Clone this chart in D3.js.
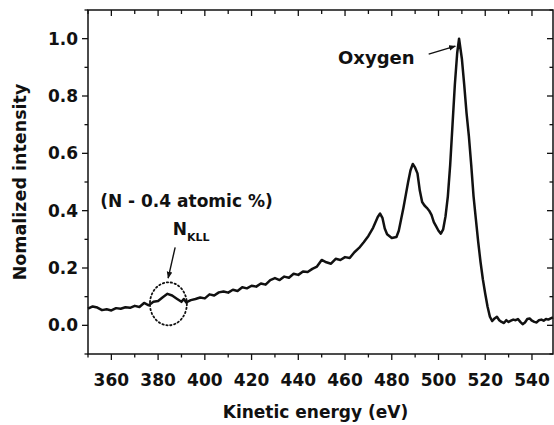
<!DOCTYPE html>
<html>
<head>
<meta charset="utf-8">
<script src="https://cdn.jsdelivr.net/npm/d3@7"></script>
<style>
  body { margin: 0; background: #fff; }
  svg text { font-family: "DejaVu Sans", sans-serif; font-weight: bold; fill: #111; }
</style>
</head>
<body>
<div id="chart"></div>
<script>
// Auger spectrum
const energy = [350, 352, 354, 356, 358, 360, 362, 364, 366, 368, 370, 372, 374, 376, 378,
    380, 382, 384, 386, 388, 390, 391, 392, 394, 396, 398, 400, 402, 404, 406, 408, 410,
    412, 414, 416, 418, 420, 422, 424, 426, 428, 430, 432, 434, 436, 438, 440, 442, 444,
    446, 448, 450, 452, 454, 456, 458, 460, 462, 464, 466, 468, 470, 472, 474, 475, 476,
    477, 478, 480, 482, 483, 484, 485, 486, 487, 488, 489, 490, 491, 492, 493, 494, 495,
    496, 497, 498, 499, 500, 501, 502, 503, 504, 505, 506, 507, 508, 508.8, 510, 511, 512,
    513, 514, 515, 516, 517, 518, 519, 520, 521, 522, 523, 524, 525, 526, 527, 528, 529,
    530, 531, 532, 533, 534, 535, 536, 537, 538, 539, 540, 541, 542, 543, 544, 545, 546,
    547, 548, 549];
const intensity = [.058, .066, .062, .053, .056, .052, .060, .058, .063, .061, .068, .064, .078, .070, .082,
    .085, .098, .110, .104, .093, .082, .092, .080, .088, .092, .097, .094, .108, .104, .115, .118, .114,
    .124, .120, .133, .129, .138, .135, .146, .142, .158, .165, .158, .170, .166, .180, .176, .188, .186,
    .197, .205, .228, .220, .215, .232, .228, .238, .235, .255, .270, .290, .312, .340, .378, .390, .375,
    .338, .318, .305, .308, .330, .370, .410, .455, .500, .540, .563, .550, .530, .470, .430, .418, .410,
    .400, .385, .360, .345, .330, .320, .335, .380, .450, .560, .700, .840, .950, 1.0, .930, .840, .740,
    .660, .560, .450, .370, .290, .220, .160, .110, .065, .030, .015, .024, .030, .018, .012, .008, .018,
    .012, .016, .020, .018, .022, .012, .004, .010, .022, .024, .016, .012, .010, .018, .020, .016, .022,
    .020, .024, .028];

const xMajor = [360, 380, 400, 420, 440, 460, 480, 500, 520, 540];
const xMinor = [350, 370, 390, 410, 430, 450, 470, 490, 510, 530];
const yMajor = [0.0, 0.2, 0.4, 0.6, 0.8, 1.0];
const yMinor = [-0.1, 0.1, 0.3, 0.5, 0.7, 0.9, 1.1];

const width = 554, height = 425;
const margin = { top: 10, right: 1, bottom: 71, left: 88 };

const svg = d3.select('#chart')
    .append('svg')
    .attr('width', width)
    .attr('height', height);

const x = d3.scaleLinear().domain([350, 549]).range([margin.left, width - margin.right]);
const y = d3.scaleLinear().domain([-0.1, 1.1]).range([height - margin.bottom, margin.top]);

const x0 = x.range()[0], x1 = x.range()[1];
const y0 = y.range()[0], y1 = y.range()[1];

// ticks: bottom/left outward, top/right inward
const ticks = svg.append('g').attr('stroke', '#111').attr('stroke-width', 1.3);
xMajor.forEach(v => {
    ticks.append('line').attr('x1', x(v)).attr('x2', x(v)).attr('y1', y0).attr('y2', y0 + 6);
    ticks.append('line').attr('x1', x(v)).attr('x2', x(v)).attr('y1', y1).attr('y2', y1 + 6);
});
xMinor.forEach(v => {
    ticks.append('line').attr('x1', x(v)).attr('x2', x(v)).attr('y1', y0).attr('y2', y0 + 3.5);
    ticks.append('line').attr('x1', x(v)).attr('x2', x(v)).attr('y1', y1).attr('y2', y1 + 4);
});
yMajor.forEach(v => {
    ticks.append('line').attr('x1', x0 - 6).attr('x2', x0).attr('y1', y(v)).attr('y2', y(v));
    ticks.append('line').attr('x1', x1 - 6).attr('x2', x1).attr('y1', y(v)).attr('y2', y(v));
});
yMinor.forEach(v => {
    ticks.append('line').attr('x1', x0 - 3.5).attr('x2', x0).attr('y1', y(v)).attr('y2', y(v));
    ticks.append('line').attr('x1', x1 - 3.5).attr('x2', x1).attr('y1', y(v)).attr('y2', y(v));
});

// frame
svg.append('rect')
    .attr('x', x0).attr('y', y1)
    .attr('width', x1 - x0).attr('height', y0 - y1)
    .attr('fill', 'none')
    .attr('stroke', '#111')
    .attr('stroke-width', 1.5);

// tick labels
svg.append('g').selectAll('text')
    .data(xMajor)
    .enter().append('text')
    .attr('x', d => x(d))
    .attr('y', y0 + 32)
    .attr('text-anchor', 'middle')
    .style('font-size', '17px')
    .text(d => d);

svg.append('g').selectAll('text')
    .data(yMajor)
    .enter().append('text')
    .attr('x', x0 - 10)
    .attr('y', d => y(d) + 6)
    .attr('text-anchor', 'end')
    .style('font-size', '17px')
    .text(d => d3.format('.1f')(d));

// axis titles
svg.append('text')
    .attr('x', (x0 + x1) / 2 - 5)
    .attr('y', 418)
    .attr('text-anchor', 'middle')
    .style('font-size', '17px')
    .text('Kinetic energy (eV)');

svg.append('text')
    .attr('transform', `translate(26,${(y0 + y1) / 2}) rotate(-90)`)
    .attr('text-anchor', 'middle')
    .style('font-size', '17.5px')
    .text('Nomalized intensity');

// spectrum
const points = energy.map((e, i) => [e, intensity[i]]);
const line = d3.line()
    .x(d => x(d[0]))
    .y(d => y(d[1]));

svg.append('path')
    .datum(points)
    .attr('fill', 'none')
    .attr('stroke', '#111')
    .attr('stroke-width', 2.5)
    .attr('stroke-linejoin', 'round')
    .attr('d', line);

// arrow marker
svg.append('defs').append('marker')
    .attr('id', 'arrow')
    .attr('viewBox', '0 0 10 10')
    .attr('refX', 9).attr('refY', 5)
    .attr('markerWidth', 7).attr('markerHeight', 7)
    .attr('markerUnits', 'userSpaceOnUse')
    .attr('orient', 'auto')
    .append('path')
    .attr('d', 'M0,1 L10,5 L0,9 Z')
    .attr('fill', '#111');

// Oxygen annotation
svg.append('text')
    .attr('x', x(457))
    .attr('y', y(0.913))
    .style('font-size', '18px')
    .text('Oxygen');

svg.append('line')
    .attr('x1', x(495.8)).attr('y1', y(0.946))
    .attr('x2', x(507.2)).attr('y2', y(0.974))
    .attr('stroke', '#111').attr('stroke-width', 1.4)
    .attr('marker-end', 'url(#arrow)');

// N content note
svg.append('text')
    .attr('x', x(355.2))
    .attr('y', y(0.413))
    .style('font-size', '17px')
    .text('(N - 0.4 atomic %)');

const nLabel = svg.append('text')
    .attr('x', x(386.3))
    .attr('y', y(0.315));
nLabel.append('tspan').style('font-size', '17px').text('N');
nLabel.append('tspan').attr('dy', 6).style('font-size', '11px').text('KLL');

svg.append('line')
    .attr('x1', x(387.3)).attr('y1', y(0.272))
    .attr('x2', x(384.3)).attr('y2', y(0.165))
    .attr('stroke', '#111').attr('stroke-width', 1.4)
    .attr('marker-end', 'url(#arrow)');

svg.append('ellipse')
    .attr('cx', x(384.4))
    .attr('cy', y(0.075))
    .attr('rx', x(392.3) - x(384.4))
    .attr('ry', y(0) - y(0.075))
    .attr('fill', 'none')
    .attr('stroke', '#111')
    .attr('stroke-width', 1.8)
    .attr('stroke-dasharray', '1.4 2.6')
    .attr('stroke-linecap', 'round');
</script>
</body>
</html>
